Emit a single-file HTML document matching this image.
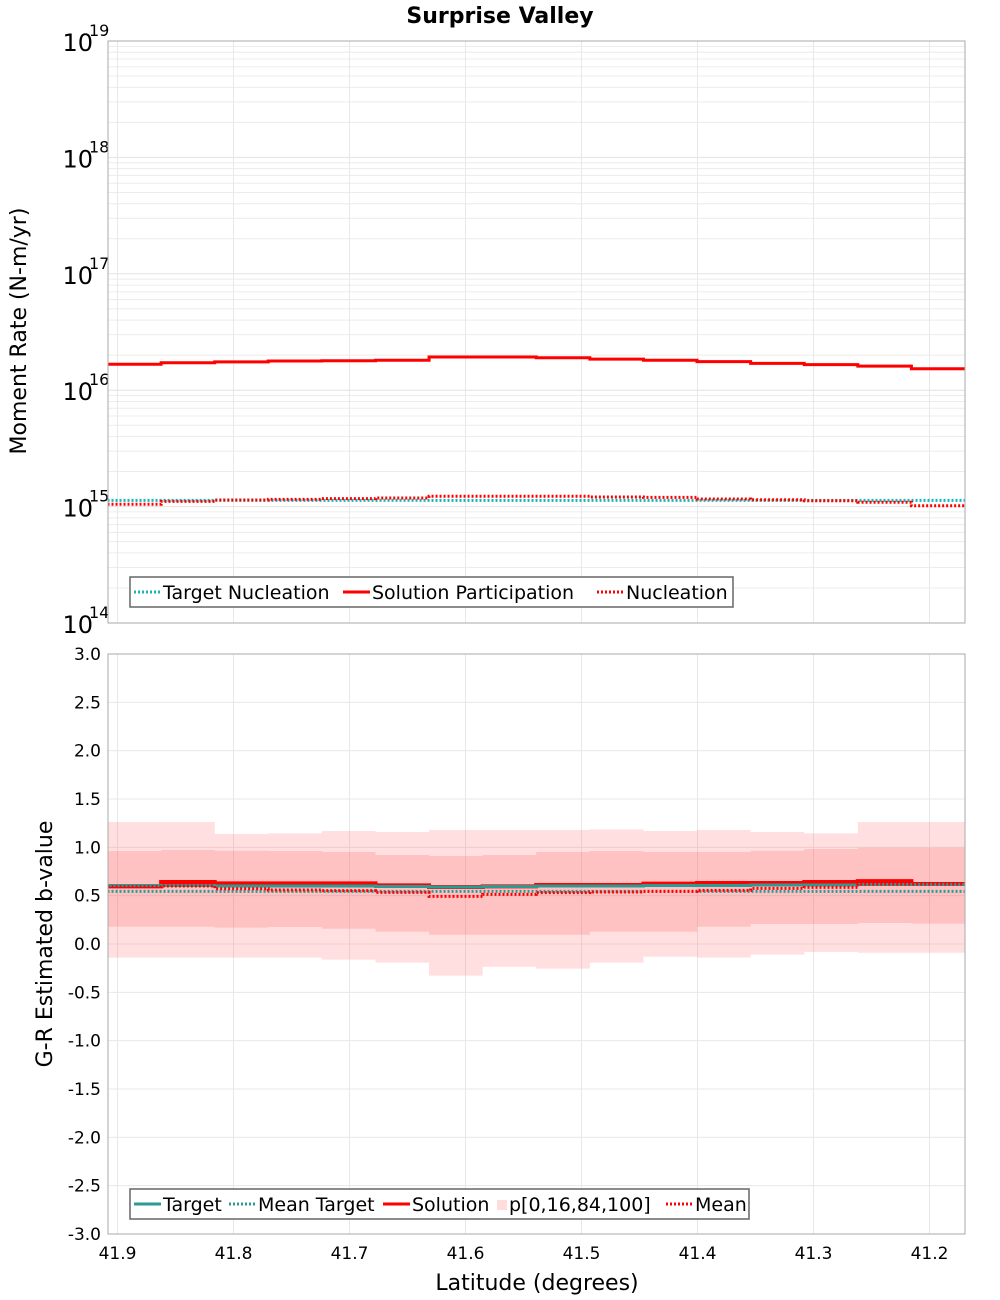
<!DOCTYPE html>
<html><head><meta charset="utf-8"><style>
body{margin:0;background:#fff}
svg{display:block;font-family:"DejaVu Sans","Liberation Sans",sans-serif}
</style></head><body>
<svg id="chart" width="1000" height="1300" xmlns="http://www.w3.org/2000/svg">
<text x="500" y="23" text-anchor="middle" font-size="22" font-weight="bold">Surprise Valley</text>
<g id="topg"></g><g id="botg"></g>
<text transform="translate(26,331) rotate(-90)" text-anchor="middle" font-size="22">Moment Rate (N-m/yr)</text>
<text transform="translate(52,944) rotate(-90)" text-anchor="middle" font-size="22">G-R Estimated b-value</text>
<text x="537" y="1290" text-anchor="middle" font-size="22">Latitude (degrees)</text>
</svg>
<script>
const binStart = 41.9086, binWidth = 0.0462, nBins = 16;
const solutionPart = [1.67e16,1.72e16,1.75e16,1.78e16,1.79e16,1.81e16,1.93e16,1.93e16,1.90e16,1.85e16,1.81e16,1.76e16,1.70e16,1.66e16,1.61e16,1.53e16];
const nucleation = [1.047e15,1.11e15,1.14e15,1.155e15,1.17e15,1.185e15,1.226e15,1.226e15,1.226e15,1.21e15,1.20e15,1.162e15,1.146e15,1.124e15,1.089e15,1.018e15];
const targetNucl = [1.13e15,1.13e15,1.13e15,1.13e15,1.13e15,1.13e15,1.13e15,1.13e15,1.13e15,1.13e15,1.13e15,1.13e15,1.13e15,1.13e15,1.13e15,1.13e15];
const p0 = [-0.141,-0.141,-0.141,-0.141,-0.162,-0.193,-0.327,-0.235,-0.255,-0.193,-0.131,-0.141,-0.110,-0.083,-0.090,-0.090];
const p100 = [1.262,1.262,1.138,1.145,1.169,1.159,1.179,1.179,1.179,1.186,1.169,1.179,1.159,1.145,1.262,1.262];
const p16 = [0.179,0.179,0.169,0.176,0.158,0.127,0.096,0.096,0.096,0.127,0.127,0.179,0.207,0.207,0.217,0.210];
const p84 = [0.962,0.972,0.965,0.962,0.952,0.921,0.910,0.921,0.952,0.962,0.952,0.952,0.965,0.983,0.996,0.996];
const solutionB = [0.596,0.641,0.627,0.627,0.627,0.607,0.590,0.596,0.610,0.610,0.624,0.631,0.631,0.641,0.651,0.621];
const targetB = [0.605,0.605,0.600,0.600,0.600,0.595,0.590,0.595,0.600,0.600,0.605,0.605,0.610,0.610,0.615,0.615];
const meanTargetB = [0.545,0.545,0.545,0.545,0.545,0.545,0.545,0.545,0.545,0.545,0.545,0.545,0.545,0.545,0.545,0.545];
const meanB = [0.593,0.600,0.572,0.558,0.552,0.534,0.493,0.514,0.531,0.538,0.545,0.555,0.576,0.586,0.620,0.620];
const xTicks = ["41.9","41.8","41.7","41.6","41.5","41.4","41.3","41.2"];
const bTicks = ["3.0","2.5","2.0","1.5","1.0","0.5","0.0","-0.5","-1.0","-1.5","-2.0","-2.5","-3.0"];
const decades = [14,15,16,17,18,19];

const NS="http://www.w3.org/2000/svg";
const L=108,R=965,T1=41,B1=623,T2=654,B2=1234;
const X=lat=>117.5+(41.9-lat)/0.1*116;
const Y1=v=>B1-(Math.log10(v)-14)*(B1-T1)/5;
const Y2=b=>T2+(3-b)*(B2-T2)/6;
function mk(parent,tag,attrs,text){const e=document.createElementNS(NS,tag);for(const k in attrs)e.setAttribute(k,attrs[k]);if(text!==undefined)e.textContent=text;parent.appendChild(e);return e;}
const topG=document.getElementById('topg'),botG=document.getElementById('botg');
function binX(i){return [X(binStart-i*binWidth),X(binStart-(i+1)*binWidth)];}
function stepPath(arr,Y){let d='';arr.forEach((v,i)=>{const [a,b]=binX(i);const y=Y(v);d+=(i?'L':'M')+a+','+y+'L'+b+','+y;});return d;}
function bandPath(lo,hi,Y){let d='';hi.forEach((v,i)=>{const [a,b]=binX(i);d+=(i?'L':'M')+a+','+Y(v)+'L'+b+','+Y(v);});for(let i=lo.length-1;i>=0;i--){const [a,b]=binX(i);d+='L'+b+','+Y(lo[i])+'L'+a+','+Y(lo[i]);}return d+'Z';}

for(let d=14;d<19;d++)for(let m=1;m<10;m++){const y=Y1(m*Math.pow(10,d));
 const g=mk(topG,'line',{x1:L,x2:R,y1:y,y2:y,stroke:m==1?'#e2e2e2':'#ececec','stroke-width':1});
 
 }
xTicks.forEach(t=>{const x=X(+t);for(const [p,a,b] of [[topG,T1,B1],[botG,T2,B2]]){
 const g=mk(p,'line',{x1:x,x2:x,y1:a,y2:b,stroke:'#e8e8e8'});
 
 }});
decades.forEach(d=>{const y=Y1(Math.pow(10,d));
 const t=mk(topG,'text',{x:93,y:y+10,'text-anchor':'end','font-size':24});
 
 
 t.textContent='10';
 const s=mk(topG,'text',{x:89,y:y-5,'font-size':16},String(d));
 
 });
let p=mk(topG,'path',{d:stepPath(targetNucl,Y1),fill:'none',stroke:'#1bb3b3','stroke-width':3,'stroke-dasharray':'2,2'});


p=mk(topG,'path',{d:stepPath(nucleation,Y1),fill:'none',stroke:'#f00','stroke-width':3,'stroke-dasharray':'2,2'});


p=mk(topG,'path',{d:stepPath(solutionPart,Y1),fill:'none',stroke:'#f00','stroke-width':3});


p=mk(topG,'rect',{x:L,y:T1,width:R-L,height:B1-T1,fill:'none',stroke:'#aaa'});



bTicks.forEach(t=>{const y=Y2(+t);
 const g=mk(botG,'line',{x1:L,x2:R,y1:y,y2:y,stroke:'#e8e8e8'});
 
 
 const tx=mk(botG,'text',{x:101,y:y+6,'text-anchor':'end','font-size':17},t);
 
 });
p=mk(botG,'path',{d:bandPath(p0,p100,Y2),fill:'rgba(255,80,80,0.18)'});


p=mk(botG,'path',{d:bandPath(p16,p84,Y2),fill:'rgba(255,80,80,0.2)'});


p=mk(botG,'path',{d:stepPath(solutionB,Y2),fill:'none',stroke:'#f00','stroke-width':4});


p=mk(botG,'path',{d:stepPath(targetB,Y2),fill:'none',stroke:'#2a9c95','stroke-width':3});


p=mk(botG,'path',{d:stepPath(meanTargetB,Y2),fill:'none',stroke:'#2a9c95','stroke-width':3,'stroke-dasharray':'2,2'});


p=mk(botG,'path',{d:stepPath(meanB,Y2),fill:'none',stroke:'#f00','stroke-width':3,'stroke-dasharray':'2,2'});


p=mk(botG,'rect',{x:L,y:T2,width:R-L,height:B2-T2,fill:'none',stroke:'#aaa'});


xTicks.forEach(t=>{const tx=mk(botG,'text',{x:X(+t),y:1259,'text-anchor':'middle','font-size':17},t);
 
 });

function legend(parent,x,y,w,items,name){
 const g=mk(parent,'g',{});
 
 
 mk(g,'rect',{x:x,y:y,width:w,height:30,fill:'#fff',stroke:'#666','stroke-width':1.5});
 let cx=x+4;
 items.forEach(it=>{
  if(it.box){mk(g,'rect',{x:cx+2,y:y+11,width:10,height:10,fill:'#fdd'});cx+=14;}
  else{mk(g,'line',{x1:cx,x2:cx+27,y1:y+15,y2:y+15,stroke:it.c,'stroke-width':3,'stroke-dasharray':it.dash?'2,2':'none'});cx+=29;}
  const t=mk(g,'text',{x:cx,y:y+22,'font-size':19},it.t);
  
  
  cx+=it.w;
 });
}
legend(topG,130,577,603,[{t:'Target Nucleation',c:'#1bb3b3',dash:1,w:180},{t:'Solution Participation',c:'#f00',w:225},{t:'Nucleation',c:'#f00',dash:1,w:110}],'top-legend');
legend(botG,130,1189,619,[{t:'Target',c:'#2a9c95',w:66},{t:'Mean Target',c:'#2a9c95',dash:1,w:125},{t:'Solution',c:'#f00',w:83},{t:'p[0,16,84,100]',box:1,w:157},{t:'Mean',c:'#f00',dash:1,w:60}],'bottom-legend');
</script>
</body></html>
